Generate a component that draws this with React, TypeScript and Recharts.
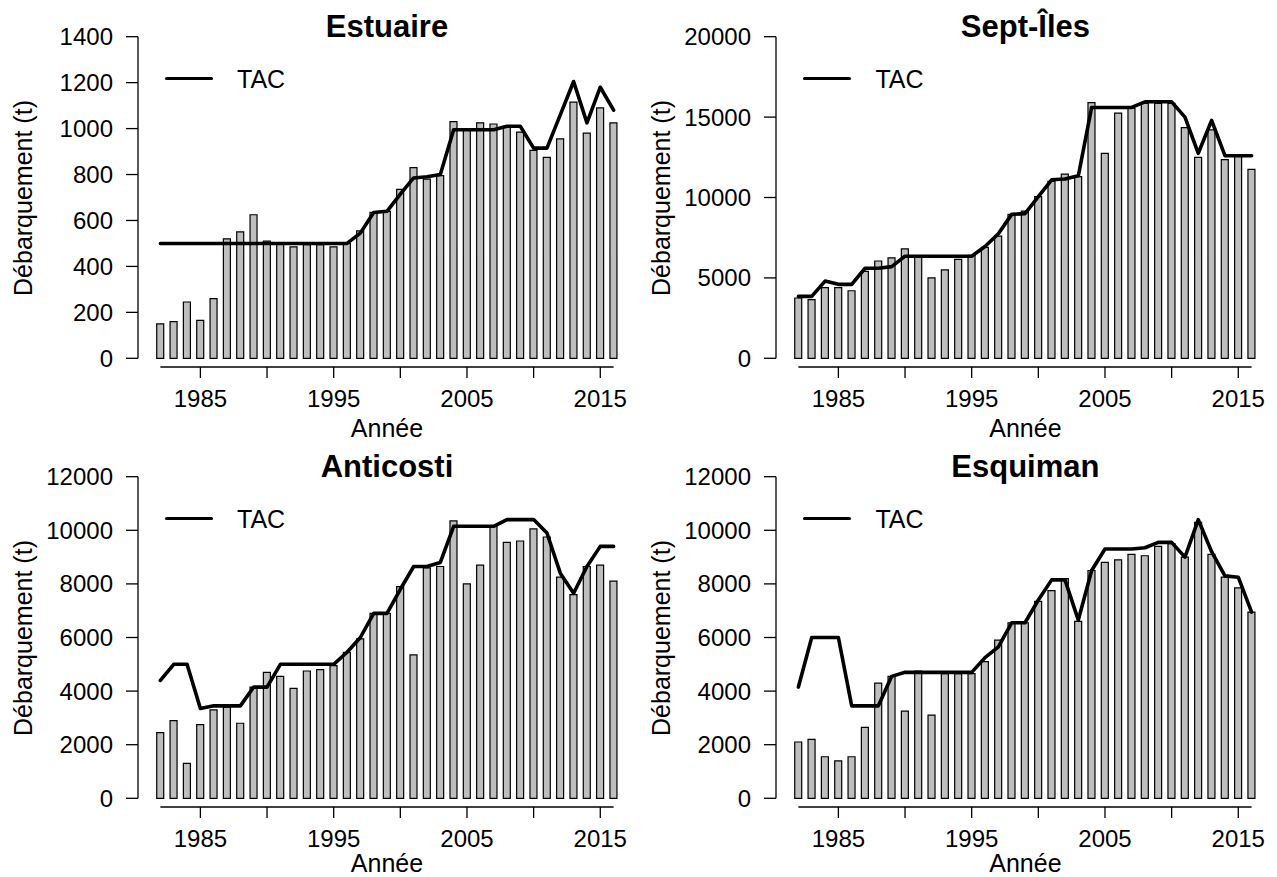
import React from 'react';
import { ComposedChart, Bar, Line, XAxis, YAxis, ReferenceLine } from 'recharts';

const years = [
  1982, 1983, 1984, 1985, 1986, 1987, 1988, 1989, 1990, 1991,
  1992, 1993, 1994, 1995, 1996, 1997, 1998, 1999, 2000, 2001,
  2002, 2003, 2004, 2005, 2006, 2007, 2008, 2009, 2010, 2011,
  2012, 2013, 2014, 2015, 2016,
];
const xTicks = [1985, 1990, 1995, 2000, 2005, 2010, 2015];
const xLabelYears = [1985, 1995, 2005, 2015];

const estuaireLandings = [
  150, 160, 245, 165, 260, 520, 550, 625, 510, 500,
  485, 495, 495, 485, 500, 555, 635, 640, 735, 830,
  780, 795, 1030, 995, 1025, 1020, 1010, 985, 905, 875,
  955, 1115, 980, 1090, 1025,
];
const estuaireTac = [
  500, 500, 500, 500, 500, 500, 500, 500, 500, 500,
  500, 500, 500, 500, 500, 545, 635, 640, 715, 785,
  790, 800, 995, 995, 995, 995, 1010, 1010, 915, 915,
  1060, 1205, 1025, 1180, 1080,
];
const estuaireTicks = [0, 200, 400, 600, 800, 1000, 1200, 1400];

const septLandings = [
  3750, 3650, 4400, 4400, 4200, 5400, 6050, 6250, 6800, 6300,
  5000, 5500, 6150, 6400, 6900, 7600, 8950, 9150, 10050, 11000,
  11450, 11300, 15900, 12750, 15250, 15550, 15850, 15850, 15850, 14350,
  12500, 14200, 12350, 12550, 11750,
];
const septTac = [
  3850, 3850, 4800, 4600, 4600, 5600, 5600, 5700, 6350, 6350,
  6350, 6350, 6350, 6350, 6950, 7750, 8950, 9000, 10050, 11100,
  11150, 11350, 15600, 15600, 15600, 15600, 15950, 15950, 15950, 15000,
  12750, 14800, 12600, 12600, 12600,
];
const septTicks = [0, 5000, 10000, 15000, 20000];

const anticostiLandings = [
  2450, 2900, 1300, 2750, 3300, 3400, 2800, 4150, 4700, 4550,
  4100, 4750, 4800, 4950, 5450, 5950, 6900, 6900, 7900, 5350,
  8600, 8650, 10350, 8000, 8700, 10150, 9550, 9600, 10050, 9750,
  8250, 7600, 8650, 8700, 8100,
];
const anticostiTac = [
  4400, 5000, 5000, 3350, 3450, 3450, 3450, 4150, 4150, 5000,
  5000, 5000, 5000, 5000, 5450, 6000, 6900, 6900, 7800, 8650,
  8650, 8800, 10150, 10150, 10150, 10150, 10400, 10400, 10400, 9900,
  8400, 7650, 8650, 9400, 9400,
];

const esquimanLandings = [
  2100, 2200, 1550, 1400, 1550, 2650, 4300, 4550, 3250, 4750,
  3100, 4650, 4650, 4650, 5100, 5900, 6550, 6550, 7350, 7750,
  8200, 6600, 8500, 8800, 8900, 9100, 9050, 9400, 9500, 9000,
  10300, 9100, 8250, 7850, 6950,
];
const esquimanTac = [
  4150, 6000, 6000, 6000, 3450, 3450, 3450, 4550, 4700, 4700,
  4700, 4700, 4700, 4700, 5250, 5650, 6550, 6550, 7400, 8150,
  8150, 6650, 8500, 9300, 9300, 9300, 9350, 9550, 9550, 9000,
  10400, 9200, 8300, 8250, 6950,
];
const gulfTicks = [0, 2000, 4000, 6000, 8000, 10000, 12000];

const FONT = "'Liberation Sans', Arial, Helvetica, sans-serif";
const X_LO = 1980.32;
const X_HI = 2017.68;
const PW = 638;
const PH = 438;

type PanelProps = {
  title: string;
  landings: number[];
  tac: number[];
  yMax: number;
  yTicks: number[];
  left: number;
  top: number;
  xLabelTop: number;
};

function Panel({ title, landings, tac, yMax, yTicks, left, top, xLabelTop }: PanelProps) {
  const data = years.map((y, i) => ({ year: y, landings: landings[i], tac: tac[i] }));
  const yLo = (-yMax * 8.7) / 321.6;
  const txt: React.CSSProperties = {
    position: 'absolute',
    fontFamily: FONT,
    color: '#000',
    lineHeight: 1,
    whiteSpace: 'nowrap',
  };
  return (
    <div style={{ position: 'absolute', left, top, width: PW, height: PH }}>
      <ComposedChart
        width={PW}
        height={PH}
        data={data}
        margin={{ top: 36.7, right: 2, bottom: 21, left: 78 }}
      >
        <XAxis
          dataKey="year"
          type="number"
          domain={[X_LO, X_HI]}
          ticks={xTicks}
          interval={0}
          allowDataOverflow
          height={50}
          axisLine={false}
          tickSize={11}
          tickMargin={12}
          tickLine={{ stroke: '#000', strokeWidth: 1.3 }}
          tick={{ fill: '#000', fontSize: 24, fontFamily: FONT }}
          tickFormatter={(v: number) => (xLabelYears.includes(v) ? String(v) : '')}
        />
        <YAxis
          type="number"
          domain={[yLo, yMax]}
          ticks={yTicks}
          interval={0}
          allowDataOverflow
          width={60}
          axisLine={false}
          tickSize={12}
          tickMargin={13}
          tickLine={{ stroke: '#000', strokeWidth: 1.3 }}
          tick={{ fill: '#000', fontSize: 24, fontFamily: FONT }}
        />
        <ReferenceLine
          segment={[{ x: 1982, y: yLo }, { x: 2016, y: yLo }]}
          stroke="#000"
          strokeWidth={1.3}
          ifOverflow="visible"
        />
        <ReferenceLine
          segment={[{ x: X_LO, y: 0 }, { x: X_LO, y: yMax }]}
          stroke="#000"
          strokeWidth={1.3}
          ifOverflow="visible"
        />
        <Bar
          dataKey="landings"
          fill="#BEBEBE"
          stroke="#000"
          strokeWidth={1.2}
          barSize={7}
          isAnimationActive={false}
        />
        <Line
          dataKey="tac"
          type="linear"
          stroke="#000"
          strokeWidth={3.6}
          strokeLinejoin="round"
          strokeLinecap="round"
          dot={false}
          activeDot={false}
          isAnimationActive={false}
        />
      </ComposedChart>
      <div
        style={{
          ...txt,
          left: 387,
          top: 11.1,
          transform: 'translateX(-50%)',
          fontSize: 31,
          fontWeight: 'bold',
        }}
      >
        {title}
      </div>
      <div
        style={{
          position: 'absolute',
          left: 165,
          top: 76.5,
          width: 48,
          height: 3.7,
          background: '#000',
          borderRadius: 2,
        }}
      />
      <div style={{ ...txt, left: 237, top: 67.1, fontSize: 25 }}>TAC</div>
      <div
        style={{
          ...txt,
          left: 23,
          top: 197.5,
          fontSize: 25,
          transform: 'translate(-50%, -50%) rotate(-90deg)',
        }}
      >
        Débarquement (t)
      </div>
      <div
        style={{
          ...txt,
          left: 387,
          top: xLabelTop,
          fontSize: 25,
          transform: 'translateX(-50%)',
        }}
      >
        Année
      </div>
    </div>
  );
}

export default function App() {
  return (
    <div
      style={{
        position: 'absolute',
        left: 0,
        top: 0,
        width: 1277,
        height: 877,
        background: '#fff',
        overflow: 'hidden',
      }}
    >
      <Panel title="Estuaire" landings={estuaireLandings} tac={estuaireTac} yMax={1400} yTicks={estuaireTicks} left={0} top={0} xLabelTop={415.8} />
      <Panel title="Sept-Îles" landings={septLandings} tac={septTac} yMax={20000} yTicks={septTicks} left={638.4} top={0} xLabelTop={415.8} />
      <Panel title="Anticosti" landings={anticostiLandings} tac={anticostiTac} yMax={12000} yTicks={gulfTicks} left={0} top={440} xLabelTop={411} />
      <Panel title="Esquiman" landings={esquimanLandings} tac={esquimanTac} yMax={12000} yTicks={gulfTicks} left={638.4} top={440} xLabelTop={411} />
    </div>
  );
}
